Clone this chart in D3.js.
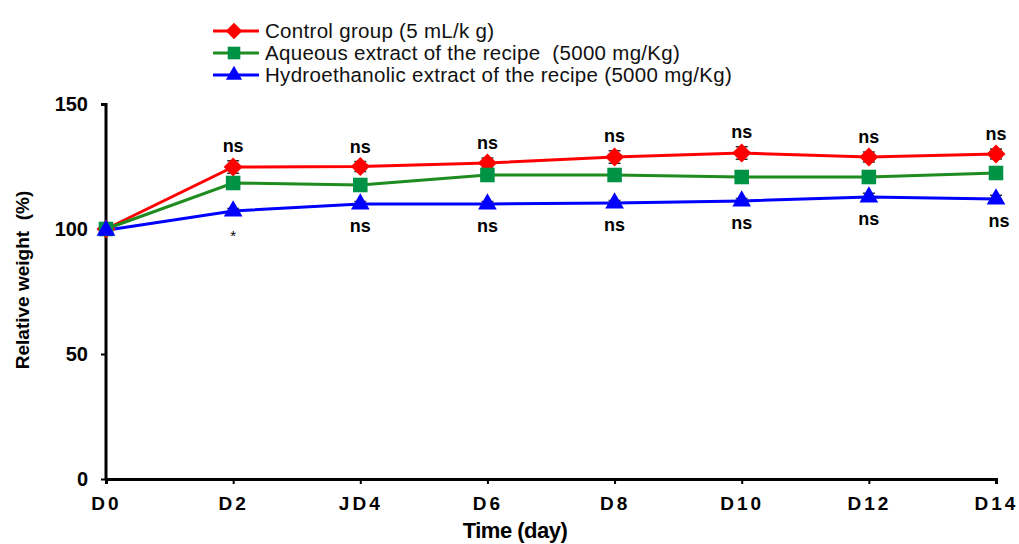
<!doctype html>
<html>
<head>
<meta charset="utf-8">
<style>
  body { margin: 0; background: #fff; font-family: Arial, "Liberation Sans", Helvetica, sans-serif; }
  text { white-space: pre; }
</style>
</head>
<body>
<div id="chart"></div>
<script src="https://cdnjs.cloudflare.com/ajax/libs/d3/7.8.5/d3.min.js"></script>
<script>
  // categories + values
  var days = ['D0', 'D2', 'JD4', 'D6', 'D8', 'D10', 'D12', 'D14']
  var control = [100, 124.8, 125, 126.4, 128.8, 130.4, 128.8, 130]
  var controlErr = [1, 2.5, 2, 2, 2.5, 2.5, 2, 2]
  var aqueous = [100, 118.4, 117.6, 121.6, 121.6, 120.8, 120.8, 122.4]
  var aqueousErr = [1, 1, 1, 1, 1, 1, 1, 1]
  var hydro = [99.5, 107.2, 110, 110, 110.4, 111.2, 112.8, 112]
  var hydroErr = [1, 1, 1, 1, 1, 1, 1.5, 1.5]
  var topMarks = ['', 'ns', 'ns', 'ns', 'ns', 'ns', 'ns', 'ns']
  var bottomMarks = ['', '*', 'ns', 'ns', 'ns', 'ns', 'ns', 'ns']
  var yTicks = [0, 50, 100, 150]
  var legendLabels = [
    'Control group (5 mL/k g)',
    'Aqueous extract of the recipe  (5000 mg/Kg)',
    'Hydroethanolic extract of the recipe (5000 mg/Kg)'
  ]

  var width = 1019, height = 544
  var svg = d3.select('#chart').append('svg')
    .attr('width', width).attr('height', height)

  var x = d3.scalePoint().domain(days).range([106, 996])
  var y = d3.scaleLinear().domain([0, 150]).range([479, 104])

  var series = [
    { name: legendLabels[0], values: control, err: controlErr, line: '#ff0000', fill: '#ff0000', shape: d3.symbolDiamond2, size: 230 },
    { name: legendLabels[1], values: aqueous, err: aqueousErr, line: '#1e8c1e', fill: '#009245', shape: d3.symbolSquare2, size: 270 },
    { name: legendLabels[2], values: hydro, err: hydroErr, line: '#0000ff', fill: '#0000ff', shape: d3.symbolTriangle2, size: 250 }
  ]

  // axes
  var yAxis = svg.append('g')
    .attr('transform', 'translate(106,0)')
    .call(d3.axisLeft(y).tickValues(yTicks).tickSize(5).tickPadding(13))
  var xAxis = svg.append('g')
    .attr('transform', 'translate(0,479)')
    .call(d3.axisBottom(x).tickSize(5).tickPadding(13))

  ;[yAxis, xAxis].forEach(function(ax) {
    ax.select('.domain').attr('stroke', '#000').attr('stroke-width', 3)
    ax.selectAll('.tick line').attr('stroke', '#000').attr('stroke-width', 2)
    ax.selectAll('.tick text')
      .attr('fill', '#000')
      .attr('font-size', 20)
      .attr('font-weight', 'bold')
      .attr('font-family', 'Arial, "Liberation Sans", sans-serif')
  })
  xAxis.selectAll('.tick text').attr('letter-spacing', 3).attr('font-size', 19)
  yAxis.select('.domain').attr('d', 'M-5,104.5H0V479')

  svg.append('text')
    .attr('x', 515).attr('y', 538)
    .attr('text-anchor', 'middle')
    .attr('font-size', 22).attr('font-weight', 'bold')
    .attr('letter-spacing', -0.5)
    .text('Time (day)')

  svg.append('text')
    .attr('transform', 'translate(29,280) rotate(-90)')
    .attr('text-anchor', 'middle')
    .attr('font-size', 19).attr('font-weight', 'bold')
    .text('Relative weight  (%)')

  var line = d3.line()
    .x(function(d, i) { return x(days[i]) })
    .y(function(d) { return y(d) })

  series.forEach(function(s) {
    svg.append('path')
      .datum(s.values)
      .attr('d', line)
      .attr('fill', 'none')
      .attr('stroke', s.line)
      .attr('stroke-width', 3)
  })

  // error bars
  series.forEach(function(s) {
    var g = svg.append('g')
    s.values.forEach(function(v, i) {
      var cx = x(days[i])
      g.append('line')
        .attr('x1', cx).attr('x2', cx)
        .attr('y1', y(v - s.err[i])).attr('y2', y(v + s.err[i]))
        .attr('stroke', '#333').attr('stroke-width', 1)
      ;[v - s.err[i], v + s.err[i]].forEach(function(e) {
        g.append('line')
          .attr('x1', cx - 6).attr('x2', cx + 6)
          .attr('y1', y(e)).attr('y2', y(e))
          .attr('stroke', '#333').attr('stroke-width', 1.5)
      })
    })
  })

  // markers
  series.forEach(function(s) {
    svg.append('g').selectAll('path')
      .data(s.values)
      .enter().append('path')
      .attr('transform', function(d, i) { return 'translate(' + x(days[i]) + ',' + y(d) + ')' })
      .attr('d', d3.symbol().type(s.shape).size(s.size))
      .attr('fill', s.fill)
  })

  // significance marks
  svg.append('g').selectAll('text')
    .data(topMarks)
    .enter().append('text')
    .attr('x', function(d, i) { return x(days[i]) })
    .attr('y', function(d, i) { return y(control[i] + controlErr[i]) - 9 })
    .attr('text-anchor', 'middle')
    .attr('font-size', 18).attr('font-weight', 'bold')
    .text(function(d) { return d })

  svg.append('g').selectAll('text')
    .data(bottomMarks)
    .enter().append('text')
    .attr('x', function(d, i) { return x(days[i]) + (i === days.length - 1 ? 3 : 0) })
    .attr('y', function(d, i) { return y(hydro[i]) + (d === '*' ? 30 : 28) })
    .attr('text-anchor', 'middle')
    .attr('font-size', function(d) { return d === '*' ? 15 : 18 })
    .attr('font-weight', function(d) { return d === '*' ? 'normal' : 'bold' })
    .text(function(d) { return d })

  // legend
  var legend = svg.append('g').attr('transform', 'translate(213,31)')
  series.forEach(function(s, i) {
    var row = legend.append('g').attr('transform', 'translate(0,' + (i * 22) + ')')
    row.append('line')
      .attr('x1', 0).attr('x2', 46)
      .attr('stroke', s.line).attr('stroke-width', 3)
    row.append('path')
      .attr('transform', 'translate(21,0)')
      .attr('d', d3.symbol().type(s.shape).size(s.size * 0.75))
      .attr('fill', s.fill)
    row.append('text')
      .attr('x', 52).attr('y', 7)
      .attr('font-size', 20.5)
      .attr('letter-spacing', 0.3)
      .attr('fill', '#111')
      .text(s.name)
  })
</script>
</body>
</html>
